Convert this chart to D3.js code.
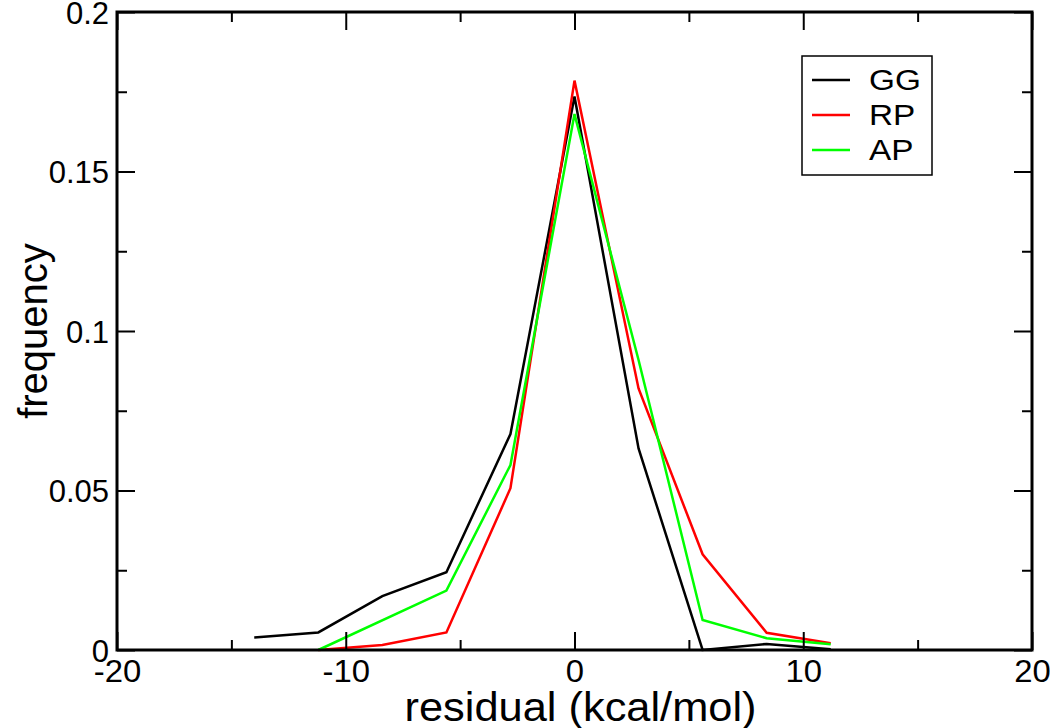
<!DOCTYPE html>
<html>
<head>
<meta charset="utf-8">
<script src="https://cdn.jsdelivr.net/npm/d3@7"></script>
<style>
  html, body { margin: 0; padding: 0; background: #fff; }
  svg { display: block; }
  text { font-family: "Liberation Sans", Arial, sans-serif; fill: #000; }
</style>
</head>
<body>
<svg id="chart" width="1050" height="728"></svg>
<script>
// ---- data ----
const xValues = [-14, -11.2, -8.4, -5.6, -2.8, 0, 2.8, 5.6, 8.4, 11.2];
const ggValues = [0.0039, 0.0055, 0.0169, 0.0244, 0.0677, 0.1735, 0.0632, 0.0, 0.0019, 0.0002];
const rpX = [-11.2, -8.4, -5.6, -2.8, 0, 2.8, 5.6, 8.4, 11.2];
const rpValues = [0.0, 0.0016, 0.0055, 0.0507, 0.1785, 0.0820, 0.0300, 0.0054, 0.0021];
const apX = [-11.2, -5.6, -2.8, 0, 2.8, 5.6, 8.4, 11.2];
const apValues = [0.0, 0.0186, 0.0580, 0.1680, 0.0909, 0.0094, 0.0037, 0.0018];
const seriesNames = ["GG", "RP", "AP"];
const seriesColors = ["#000000", "#ff0000", "#00ff00"];
const xTicks = [-20, -10, 0, 10, 20];
const xTickLabels = ["-20", "-10", "0", "10", "20"];
const xMinorTicks = [-15, -5, 5, 15];
const yTicks = [0, 0.05, 0.1, 0.15, 0.2];
const yTickLabels = ["0", "0.05", "0.1", "0.15", "0.2"];
const yMinorTicks = [0.025, 0.075, 0.125, 0.175];
const xLabel = "residual (kcal/mol)";
const yLabel = "frequency";

// ---- layout ----
const L = 117, R = 1032, T = 12, B = 650;
const svg = d3.select("#chart");
const x = d3.scaleLinear().domain([-20, 20]).range([L, R]);
const y = d3.scaleLinear().domain([0, 0.2]).range([B, T]);

const series = [
  { name: seriesNames[0], color: seriesColors[0], pts: xValues.map((v, i) => [v, ggValues[i]]) },
  { name: seriesNames[1], color: seriesColors[1], pts: rpX.map((v, i) => [v, rpValues[i]]) },
  { name: seriesNames[2], color: seriesColors[2], pts: apX.map((v, i) => [v, apValues[i]]) }
];

// data lines
const line = d3.line().x(d => x(d[0])).y(d => y(d[1]));
series.forEach(s => {
  svg.append("path")
    .datum(s.pts)
    .attr("d", line)
    .attr("fill", "none")
    .attr("stroke", s.color)
    .attr("stroke-width", 2.5)
    .attr("stroke-linejoin", "miter");
});

// axes with inward ticks on all sides
const majorLen = 18, minorLen = 10;
function tickAxis(axisGen, transform) {
  const g = svg.append("g").attr("transform", transform).call(axisGen);
  g.select(".domain").remove();
  g.selectAll(".tick line").attr("stroke", "#000").attr("stroke-width", 2);
  return g;
}
const xb = tickAxis(d3.axisBottom(x).tickValues(xTicks).tickSizeInner(-majorLen).tickSizeOuter(0)
  .tickFormat((d, i) => xTickLabels[i]), `translate(0,${B})`);
xb.selectAll(".tick text").attr("font-size", 31).attr("y", 0).attr("dy", 0)
  .attr("transform", "translate(0,32) scale(1.06,1)");
tickAxis(d3.axisBottom(x).tickValues(xMinorTicks).tickSizeInner(-minorLen).tickSizeOuter(0).tickFormat(""), `translate(0,${B})`);
tickAxis(d3.axisTop(x).tickValues(xTicks).tickSizeInner(-majorLen).tickSizeOuter(0).tickFormat(""), `translate(0,${T})`);
tickAxis(d3.axisTop(x).tickValues(xMinorTicks).tickSizeInner(-minorLen).tickSizeOuter(0).tickFormat(""), `translate(0,${T})`);
const yl = tickAxis(d3.axisLeft(y).tickValues(yTicks).tickSizeInner(-majorLen).tickSizeOuter(0)
  .tickFormat((d, i) => yTickLabels[i]), `translate(${L},0)`);
yl.selectAll(".tick text").attr("font-size", 31).attr("x", -8).attr("dy", "0.36em").attr("text-anchor", "end");
tickAxis(d3.axisLeft(y).tickValues(yMinorTicks).tickSizeInner(-minorLen).tickSizeOuter(0).tickFormat(""), `translate(${L},0)`);
tickAxis(d3.axisRight(y).tickValues(yTicks).tickSizeInner(-majorLen).tickSizeOuter(0).tickFormat(""), `translate(${R},0)`);
tickAxis(d3.axisRight(y).tickValues(yMinorTicks).tickSizeInner(-minorLen).tickSizeOuter(0).tickFormat(""), `translate(${R},0)`);

// frame
svg.append("rect")
  .attr("x", L).attr("y", T).attr("width", R - L).attr("height", B - T)
  .attr("fill", "none").attr("stroke", "#000").attr("stroke-width", 3);

// axis labels
svg.append("text")
  .attr("transform", `translate(${(L + R) / 2 + 6},721) scale(1.085,1)`)
  .attr("text-anchor", "middle").attr("font-size", 40)
  .text(xLabel);
svg.append("text")
  .attr("transform", `translate(47,${(T + B) / 2}) rotate(-90)`)
  .attr("text-anchor", "middle").attr("font-size", 40)
  .text(yLabel);

// legend
const lg = svg.append("g");
lg.append("rect")
  .attr("x", 802).attr("y", 56).attr("width", 130).attr("height", 119)
  .attr("fill", "#fff").attr("stroke", "#000").attr("stroke-width", 1.5);
series.forEach((s, i) => {
  const cy = 80 + i * 35;
  lg.append("line").attr("x1", 812).attr("x2", 850).attr("y1", cy).attr("y2", cy)
    .attr("stroke", s.color).attr("stroke-width", 2.7);
  lg.append("text").attr("transform", `translate(869,${cy}) scale(1.15,1)`).attr("dy", "0.36em")
    .attr("font-size", 29).text(s.name);
});
</script>
</body>
</html>
